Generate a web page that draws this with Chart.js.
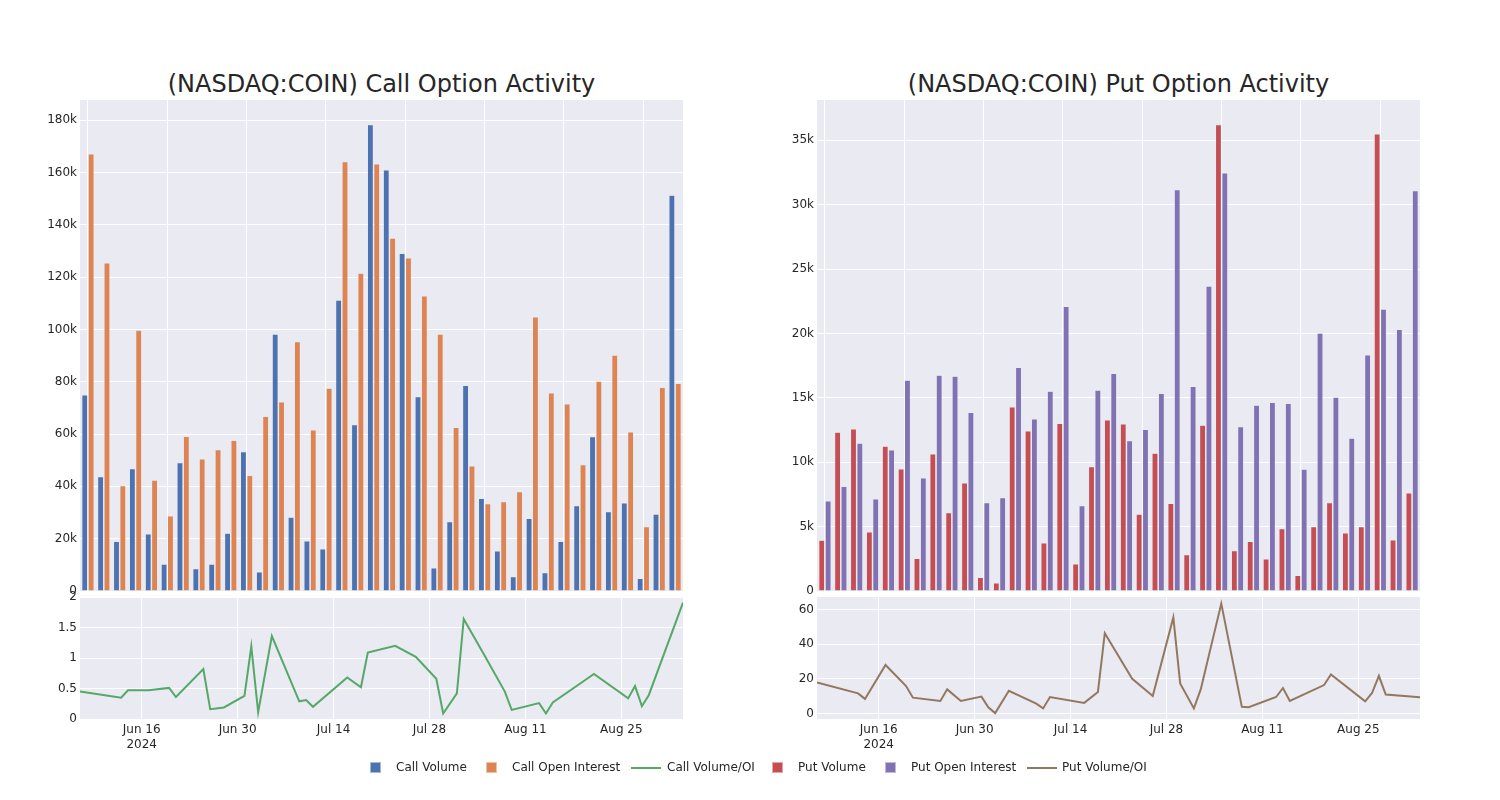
<!DOCTYPE html>
<html><head><meta charset="utf-8">
<script src="https://cdn.jsdelivr.net/npm/chart.js@4.4.1/dist/chart.umd.min.js"></script>
<style>
html,body{margin:0;padding:0;background:#fff;width:1500px;height:800px;overflow:hidden;font-family:"DejaVu Sans",sans-serif;}
canvas{position:absolute;}
.title{position:absolute;font-size:24px;color:#262626;text-align:center;white-space:nowrap;line-height:28px;}
.sq{position:absolute;width:11px;height:11px;top:762px;box-sizing:border-box;border:1px solid rgba(255,255,255,0.5);}
.ln{position:absolute;width:30px;height:2px;top:767px;}
.lt{position:absolute;top:759px;font-size:12px;color:#262626;line-height:16px;white-space:nowrap;}
</style></head><body>
<div class="title" style="left:80px;width:603px;top:70px;">(NASDAQ:COIN) Call Option Activity</div>
<div class="title" style="left:817px;width:603px;top:70px;">(NASDAQ:COIN) Put Option Activity</div>
<canvas id="tl" width="740" height="580" style="left:0;top:60px;width:740px;height:580px"></canvas>
<canvas id="bl" width="740" height="210" style="left:0;top:570px;width:740px;height:210px"></canvas>
<canvas id="tr" width="683" height="580" style="left:737px;top:60px;width:683px;height:580px"></canvas>
<canvas id="br" width="683" height="210" style="left:737px;top:570px;width:683px;height:210px"></canvas>
<div id="legend"></div>
<script>
const dates = ['2024-06-07','2024-06-13','2024-06-14','2024-06-17','2024-06-20','2024-06-21','2024-06-25','2024-06-26','2024-06-28',
'2024-07-01','2024-07-02','2024-07-03','2024-07-05','2024-07-09','2024-07-10','2024-07-11','2024-07-16','2024-07-18','2024-07-19',
'2024-07-23','2024-07-26','2024-07-29','2024-07-30','2024-08-01','2024-08-02','2024-08-05','2024-08-08','2024-08-09','2024-08-13',
'2024-08-14','2024-08-15','2024-08-20','2024-08-21','2024-08-26','2024-08-27','2024-08-28','2024-08-29','2024-09-03'];

const callVolume = [75000,43700,19000,46800,21800,10300,49100,8500,10300,22100,53300,7300,98200,28200,19200,16100,111200,63600,178300,
161000,129100,74300,8800,26500,78600,35400,15300,5500,27800,7000,19000,32600,59000,30300,33700,4800,29400,151300];
const callOpenInterest = [167100,125400,40300,99700,42400,28700,59100,50500,54000,57600,44200,66700,72300,95300,61600,77500,164100,121500,163300,
134900,127300,112800,98200,62500,47800,33400,34200,38000,104800,75700,71500,48300,80200,90200,60800,24600,77800,79400];
const callVolOI = [0.45,0.35,0.47,0.47,0.51,0.36,0.82,0.16,0.19,0.38,1.19,0.11,1.36,0.29,0.31,0.20,0.68,0.52,1.09,
1.20,1.02,0.66,0.09,0.42,1.64,1.05,0.45,0.15,0.26,0.09,0.27,0.66,0.74,0.34,0.54,0.21,0.39,1.91];

const putVolume = [3940,12330,12590,4590,11240,9480,2540,10650,6090,8390,1060,620,14300,12440,3730,13010,2100,9660,13290,
12980,5960,10700,6810,2820,12880,36220,3130,3860,2490,4840,1220,5000,6870,4510,5000,35490,3960,7620];
const putOpenInterest = [6990,8130,11480,7150,10960,16370,8780,16760,16680,13860,6870,7250,17360,13370,15520,22100,6630,15600,16890,
11680,12540,15340,31170,15880,23680,32460,12770,14430,14640,14560,9460,20030,15050,11870,18340,21890,20310,31090];
const putVolOI = [17.9,11.6,8.4,28.0,15.8,9.1,7.2,13.9,7.2,9.7,3.6,0.2,13.1,5.7,2.9,9.5,6.1,12.4,46.3,
20.0,10.1,55.4,17.3,2.9,13.9,63.4,3.8,3.6,9.5,14.7,7.2,16.4,22.5,7.0,11.8,21.7,10.9,9.3];

const lineTickDates = ['2024-06-16','2024-06-30','2024-07-14','2024-07-28','2024-08-11','2024-08-25'];
const lineTickLabels = [['Jun 16','2024'],['Jun 30'],['Jul 14'],['Jul 28'],['Aug 11'],['Aug 25']];
const callYTicks = [0,20000,40000,60000,80000,100000,120000,140000,160000,180000];
const putYTicks = [0,5000,10000,15000,20000,25000,30000,35000];
const callRatioTicks = [0,0.5,1,1.5,2];
const callRatioTickLabels = ['0','0.5','1','1.5','2'];
const putRatioTicks = [0,20,40,60];
const putRatioTickLabels = ['0','20','40','60'];

const COLORS = {cv:'#4C72B0', coi:'#DD8452', cr:'#55A868', pv:'#C44E52', poi:'#8172B3', pr:'#937860'};
const BG = '#EAEAF2';
const FONT = {family:'"DejaVu Sans", sans-serif', size:12};
const TXT = '#262626';

const dayNum = s => Date.UTC(+s.slice(0,4), +s.slice(5,7)-1, +s.slice(8,10)) / 86400000;

const bgPlugin = {
  id:'bg',
  beforeDraw(chart){
    const {ctx, chartArea:a} = chart;
    ctx.save(); ctx.fillStyle = BG; ctx.fillRect(a.left, a.top, a.right-a.left, a.bottom-a.top); ctx.restore();
  }
};

const kfmt = v => v === 0 ? '0' : (v/1000) + 'k';

function barChart(id, labels, d1, d2, c1, c2, n1, n2, ymax, yticks, padRight){
  return new Chart(document.getElementById(id), {
    type:'bar',
    data:{labels, datasets:[
      {label:n1, data:d1, backgroundColor:c1, borderColor:'rgba(234,234,242,0.7)', borderWidth:0.6},
      {label:n2, data:d2, backgroundColor:c2, borderColor:'rgba(234,234,242,0.7)', borderWidth:0.6}
    ]},
    options:{
      responsive:false, animation:false, devicePixelRatio:1,
      categoryPercentage:0.8, barPercentage:0.95,
      layout:{padding:{left:0,right:padRight,top:40,bottom:49}},
      plugins:{legend:{display:false}, tooltip:{enabled:false}},
      scales:{
        x:{
          offset:true,
          grid:{offset:false, drawTicks:false, color:c=> (c.index % 5 === 0) ? '#FFFFFF' : 'rgba(0,0,0,0)', lineWidth:1},
          border:{display:false},
          ticks:{display:false},
          afterFit(s){ s.height = 0; }
        },
        y:{
          min:0, max:ymax,
          grid:{color:'#FFFFFF', lineWidth:1, drawTicks:false},
          border:{display:false},
          ticks:{font:FONT, color:TXT, padding:3, callback:v=>kfmt(v)},
          afterBuildTicks(s){ s.ticks = yticks.map(v=>({value:v})); },
          afterFit(s){ s.width = 80; }
        }
      }
    },
    plugins:[bgPlugin]
  });
}

function lineChart(id, values, color, name, ymin, ymax, yticks, ylabels, padRight){
  const pts = dates.map((d,i)=>({x:dayNum(d), y:values[i]}));
  const tickVals = lineTickDates.map(dayNum);
  return new Chart(document.getElementById(id), {
    type:'line',
    data:{datasets:[{label:name, data:pts, borderColor:color, borderWidth:2, pointRadius:0, fill:false, tension:0}]},
    options:{
      responsive:false, animation:false, devicePixelRatio:1,
      layout:{padding:{left:0,right:padRight,top:27,bottom:21}},
      plugins:{legend:{display:false}, tooltip:{enabled:false}},
      scales:{
        x:{
          type:'linear', min:dayNum(dates[0]), max:dayNum(dates[dates.length-1]),
          grid:{color:'#FFFFFF', lineWidth:1, drawTicks:false},
          border:{display:false},
          ticks:{font:FONT, color:TXT, padding:4, maxRotation:0, autoSkip:false,
            callback:(v)=>{ const k = tickVals.indexOf(v); return k>=0 ? lineTickLabels[k] : ''; }},
          afterBuildTicks(s){ s.ticks = tickVals.map(v=>({value:v})); },
          afterFit(s){ s.height = 40; }
        },
        y:{
          min:ymin, max:ymax,
          grid:{color:'#FFFFFF', lineWidth:1, drawTicks:false},
          border:{display:false},
          ticks:{font:FONT, color:TXT, padding:3,
            callback:(v)=>{ const k = yticks.indexOf(v); return k>=0 ? ylabels[k] : ''; }},
          afterBuildTicks(s){ s.ticks = yticks.map(v=>({value:v})); },
          afterFit(s){ s.width = 80; }
        }
      }
    },
    plugins:[bgPlugin]
  });
}

barChart('tl', dates, callVolume, callOpenInterest, COLORS.cv, COLORS.coi, 'Call Volume', 'Call Open Interest', 187700, callYTicks, 57);
lineChart('bl', callVolOI, COLORS.cr, 'Call Volume/OI', 0, 2, callRatioTicks, callRatioTickLabels, 57);
barChart('tr', dates, putVolume, putOpenInterest, COLORS.pv, COLORS.poi, 'Put Volume', 'Put Open Interest', 38130, putYTicks, 0);
lineChart('br', putVolOI, COLORS.pr, 'Put Volume/OI', -3.2, 67.2, putRatioTicks, putRatioTickLabels, 0);

// legend
const legendItems = [
  {t:'sq', c:COLORS.cv, x:370, tx:396, label:'Call Volume'},
  {t:'sq', c:COLORS.coi, x:486, tx:512, label:'Call Open Interest'},
  {t:'ln', c:COLORS.cr, x:631, tx:667, label:'Call Volume/OI'},
  {t:'sq', c:COLORS.pv, x:772, tx:798, label:'Put Volume'},
  {t:'sq', c:COLORS.poi, x:885, tx:911, label:'Put Open Interest'},
  {t:'ln', c:COLORS.pr, x:1027, tx:1062, label:'Put Volume/OI'}
];
const lg = document.getElementById('legend');
legendItems.forEach(it=>{
  const m = document.createElement('div'); m.className = it.t; m.style.left = it.x+'px'; m.style.background = it.c; lg.appendChild(m);
  const s = document.createElement('div'); s.className = 'lt'; s.style.left = it.tx+'px'; s.textContent = it.label; lg.appendChild(s);
});
</script>
</body></html>
